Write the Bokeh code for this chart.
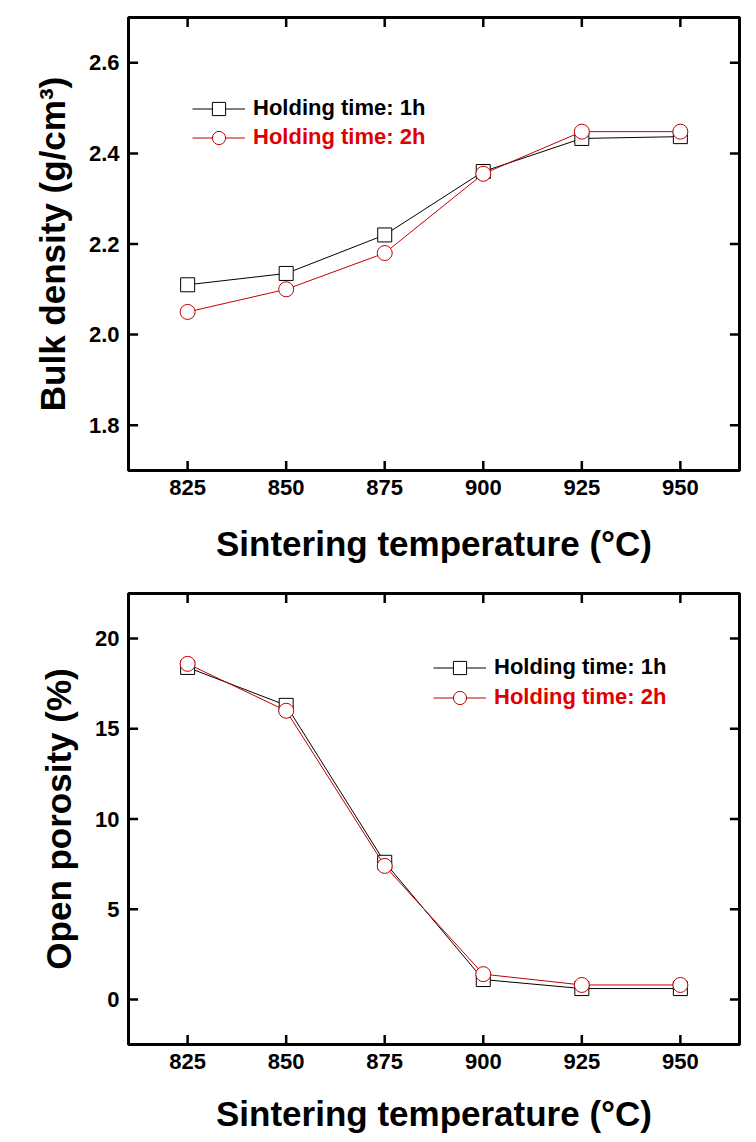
import math
from bokeh.plotting import figure
from bokeh.models import (LinearAxis, FixedTicker, Range1d, Legend, LegendItem,
                          NumeralTickFormatter)
from bokeh.layouts import column
from bokeh.embed import file_html
from bokeh.resources import INLINE

# ---------------- data ----------------
temps = [825, 850, 875, 900, 925, 950]
density_1h = [2.11, 2.135, 2.22, 2.36, 2.433, 2.437]
density_2h = [2.05, 2.10, 2.18, 2.355, 2.448, 2.448]
porosity_1h = [18.4, 16.3, 7.6, 1.1, 0.6, 0.6]
porosity_2h = [18.6, 16.0, 7.4, 1.4, 0.8, 0.8]

x_ticks = [825, 850, 875, 900, 925, 950]
density_ticks = [1.8, 2.0, 2.2, 2.4, 2.6]
porosity_ticks = [0, 5, 10, 15, 20]
series_labels = ["Holding time: 1h", "Holding time: 2h"]
x_label = "Sintering temperature (°C)"
density_label = "Bulk density (g/cm³)"
porosity_label = "Open porosity (%)"

FONT = "Liberation Sans"
BLACK = "#000000"
RED = "#c00000"
RED_TEXT = "#e00000"


def style_axis(ax, show_labels):
    ax.axis_line_width = 3
    ax.axis_line_color = BLACK
    ax.major_tick_in = 0
    ax.major_tick_out = 0
    ax.major_tick_line_color = None
    ax.minor_tick_line_color = None
    ax.major_label_text_font = FONT
    ax.major_label_text_font_style = "bold"
    ax.major_label_text_font_size = "22px"
    if show_labels:
        ax.major_label_text_color = BLACK
        ax.major_label_standoff = 9
    else:
        ax.major_label_text_color = None
        ax.major_label_standoff = 0
    ax.axis_label_text_font = FONT
    ax.axis_label_text_font_style = "bold"
    ax.axis_label_text_font_size = "35px"
    ax.axis_label_text_color = BLACK


def make_fig(height, y_rng, y_ticks, y_fmt, ylabel, top_b, bottom_b, xl_standoff,
             y1, y2, leg_pos):
    x0, x1 = 810, 965
    p = figure(width=753, height=height,
               x_range=Range1d(x0, x1), y_range=Range1d(*y_rng),
               output_backend="svg", toolbar_location=None,
               min_border_left=128, min_border_right=14,
               min_border_top=top_b, min_border_bottom=bottom_b)
    p.grid.visible = False
    p.outline_line_color = BLACK
    p.outline_line_width = 3
    p.background_fill_color = None
    p.border_fill_color = None

    p.add_layout(LinearAxis(), "above")
    p.add_layout(LinearAxis(), "right")

    for ax in p.below:
        style_axis(ax, True)
        ax.axis_label = x_label
        ax.axis_label_standoff = xl_standoff
    for ax in p.left:
        style_axis(ax, True)
        ax.axis_label = ylabel
        ax.axis_label_standoff = 14
    for ax in p.above + p.right:
        style_axis(ax, False)
    for ax in p.below + p.above:
        ax.ticker = FixedTicker(ticks=x_ticks)
    for ax in p.left + p.right:
        ax.ticker = FixedTicker(ticks=y_ticks)
        ax.formatter = NumeralTickFormatter(format=y_fmt)

    # inward ticks on all four sides: dash markers on the frame edges
    # (nudged a hair inside so they are not culled; the frame clips the outer half)
    nx, ny = len(x_ticks), len(y_ticks)
    ys, ye = y_rng
    dy = (ye - ys) * 1e-3
    dx = (x1 - x0) * 1e-3
    for yy in (ys + dy, ye - dy):
        p.scatter(x_ticks, [yy] * nx, marker="dash", angle=math.pi / 2, size=18,
                  line_color=BLACK, line_width=2.5)
    for xx in (x0 + dx, x1 - dx):
        p.scatter([xx] * ny, y_ticks, marker="dash", size=18,
                  line_color=BLACK, line_width=2.5)

    l1 = p.line(temps, y1, line_color=BLACK, line_width=1)
    s1 = p.scatter(temps, y1, marker="square", size=14, fill_color="white",
                   line_color=BLACK, line_width=1)
    l2 = p.line(temps, y2, line_color=RED, line_width=1)
    s2 = p.scatter(temps, y2, marker="circle", size=15, fill_color="white",
                   line_color=RED, line_width=1)

    items = [([l1, s1], BLACK), ([l2, s2], RED_TEXT)]
    for i, ((rs, tcol), loc) in enumerate(zip(items, leg_pos)):
        leg = Legend(items=[LegendItem(label=series_labels[i], renderers=rs)],
                     location=loc, glyph_width=53, glyph_height=33,
                     label_standoff=8, padding=0, margin=0, spacing=0,
                     border_line_alpha=0, background_fill_alpha=0,
                     label_text_font=FONT, label_text_font_style="bold",
                     label_text_font_size="22px", label_text_color=tcol)
        p.add_layout(leg, "center")
    return p


p1 = make_fig(578, (1.7, 2.7), density_ticks, "0.0", density_label, 17, 108, 26,
              density_1h, density_2h, [(64, 345.5), (64, 316.5)])
p2 = make_fig(564, (-2.5, 22.5), porosity_ticks, "0", porosity_label, 15, 98, 22,
              porosity_1h, porosity_2h, [(305, 360.5), (305, 330.5)])

layout = column(p1, p2, spacing=0)
open("out.html", "w").write(file_html(layout, INLINE))
